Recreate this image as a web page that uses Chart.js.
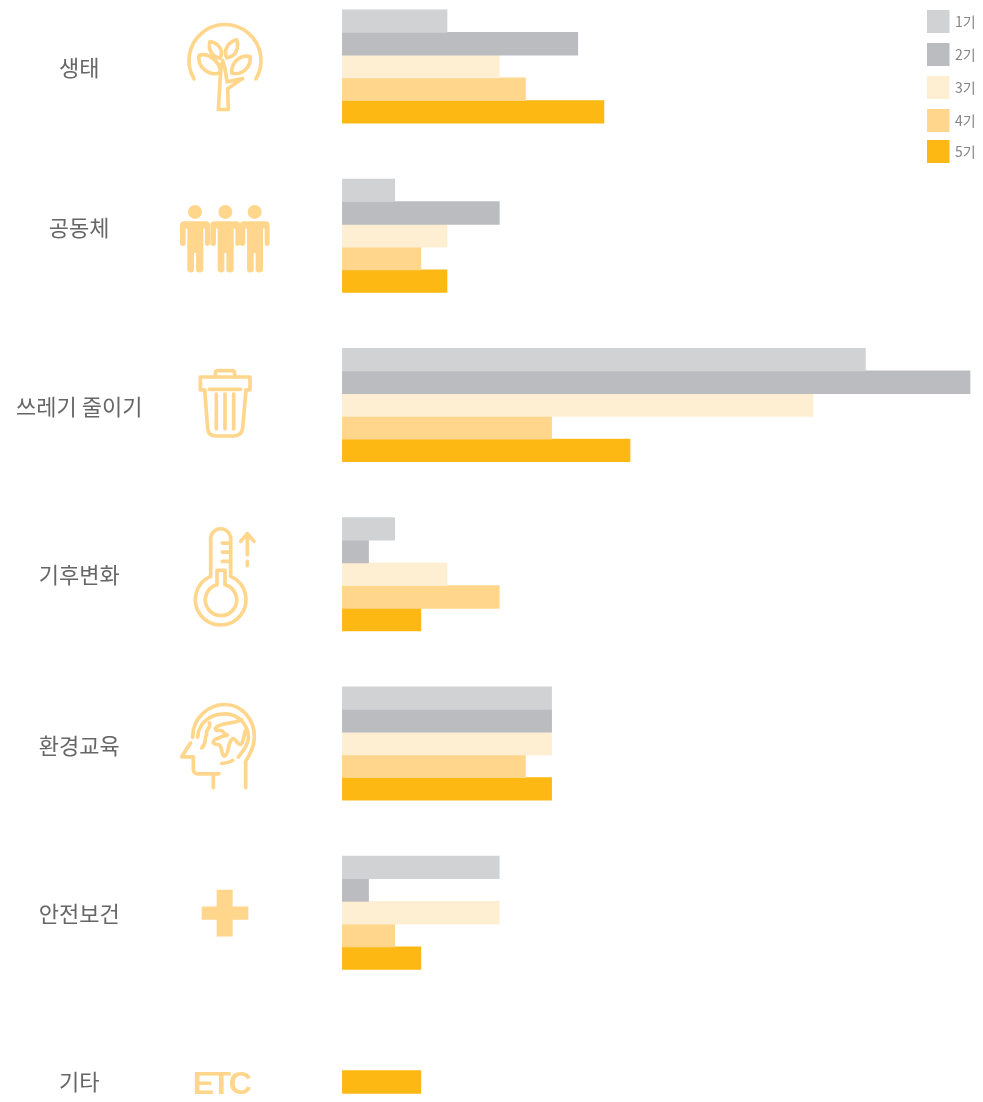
<!DOCTYPE html>
<html>
<head>
<meta charset="utf-8">
<style>
html, body { margin: 0; padding: 0; background: #fff; overflow: hidden; }
canvas { display: block; }
</style>
<script src="https://cdn.jsdelivr.net/npm/chart.js@4/dist/chart.umd.min.js"></script>
</head>
<body>
<canvas id="chart" width="983" height="1102"></canvas>
<script>
// Chart data
const categories = ['생태', '공동체', '쓰레기 줄이기', '기후변화', '환경교육', '안전보건', '기타'];
const seriesNames = ['1기', '2기', '3기', '4기', '5기'];
const term1 = [4, 2, 20, 2, 8, 6, null];
const term2 = [9, 6, 24, 1, 8, 1, null];
const term3 = [6, 4, 18, 4, 8, 6, null];
const term4 = [7, 3, 8, 6, 7, 2, null];
const term5 = [10, 4, 11, 3, 8, 3, 3];

const colors = ['#D1D2D4', '#BBBCC0', '#FFEFD2', '#FFD68B', '#FDB813'];
const iconColor = '#FFD68B';
const textFont = '"Noto Sans CJK KR", "Noto Sans", sans-serif';

// Icon paths are in 3x units, dy places the drawing relative to its row
const icons = [
    {
        dy: -56,
        stroke: [
            'M72 205 A108 108 0 1 1 258 205',
            'M145 297 L175 297 L173 235 L218 204 L171 214 L165 175 L158 150 L152 180 Z',
            'M120 93 C148 98 162 122 150 143 C128 140 112 118 120 93 Z',
            'M200 88 C208 112 198 138 170 142 C160 118 172 96 200 88 Z',
            'M87 135 C112 125 150 150 152 187 C115 198 82 170 87 135 Z',
            'M240 138 C245 168 218 195 186 188 C182 158 208 132 240 138 Z'
        ]
    },
    {
        dy: -45.5,
        fill: [0, 91, 179].map(x => `M${x + 42} 93 h66 q12 0 12 12 v53 q0 9 -8 9 q-7 0 -7 -9 v-43 h-5 v122 q0 10 -12 10 q-10 0 -10 -10 v-49 h-6 v49 q0 10 -10 10 q-10 0 -10 -10 v-122 h-5 v43 q0 9 -9 9 q-8 0 -8 -9 v-53 q0 -12 12 -12 Z M${x + 96} 65 a21 21 0 1 0 -42 0 a21 21 0 1 0 42 0 Z`)
    },
    {
        dy: -45,
        stroke: [
            'M104 90 H91 V51 H240 V90 H228',
            'M136 50 V38 Q136 32 145 32 H185 Q194 32 194 38 V50',
            'M104 90 L113 205 Q115 228 138 228 H190 Q215 228 218 205 L228 90',
            'M118 88 H212',
            'M139 102 V207', 'M165 102 V207', 'M191 102 V207'
        ]
    },
    {
        dy: -54.5,
        stroke: [
            'M122 170 V57 A30 30 0 0 1 182 57 V170 A76 76 0 1 1 122 170',
            'M141 195 V152 H165 V195 A47 47 0 1 1 141 195',
            'M157 70 H180', 'M157 97 H180', 'M157 125 H180',
            'M232 42 V105', 'M212 65 L232 42 L252 65', 'M232 125 V138'
        ]
    },
    {
        dy: -49,
        stroke: [
            'M68 128 C68 70 115 30 165 30 C215 30 255 75 253 130 C252 160 240 180 227 200 V280',
            'M83 128 C85 90 115 58 165 58 C205 58 235 90 235 130 C235 150 220 170 205 188',
            'M62 145 L35 187 H70 V225 Q70 238 85 238 H147',
            'M130 238 V280',
            'M155 207 Q172 207 188 198',
            'M118 85 C125 100 105 105 110 120 C100 135 112 145 95 160',
            'M215 75 C195 88 175 82 150 92 C135 98 130 108 145 108 C165 105 155 118 170 120',
            'M172 122 C155 125 145 130 135 135 C125 145 130 150 145 150 C160 155 150 175 162 185 C178 180 172 150 185 135 C195 125 200 150 212 150 C222 140 222 125 225 110'
        ]
    },
    {
        dy: -33,
        fill: ['M140 30 H188 V80 H235 V120 H188 V170 H140 V120 H95 V80 H140 Z']
    },
    { text: 'ETC' }
];

// Draws the icon column between the labels and the bars
const iconPlugin = {
    id: 'icons',
    afterDraw(chart) {
        const ctx = chart.ctx;
        const yScale = chart.scales.y;
        icons.forEach((icon, i) => {
            const rowY = yScale.getPixelForTick(i);
            ctx.save();
            if (icon.text) {
                ctx.font = 'bold 32px "Liberation Sans", sans-serif';
                ctx.letterSpacing = '-2.5px';
                ctx.fillStyle = iconColor;
                ctx.textAlign = 'center';
                ctx.textBaseline = 'middle';
                ctx.fillText(icon.text, 221, rowY + 3);
                ctx.restore();
                return;
            }
            ctx.translate(170, rowY + icon.dy);
            ctx.scale(1 / 3, 1 / 3);
            ctx.strokeStyle = iconColor;
            ctx.fillStyle = iconColor;
            ctx.lineWidth = 11;
            ctx.lineCap = 'round';
            ctx.lineJoin = 'round';
            (icon.stroke || []).forEach(d => ctx.stroke(new Path2D(d)));
            (icon.fill || []).forEach(d => ctx.fill(new Path2D(d)));
            ctx.restore();
        });
    }
};

// The labels do not sit exactly on their rows in the original
const labelNudge = [1.5, -8.5, 1.5, 0.5, 2.5, 0.5, -0.5];
const labelNudgePlugin = {
    id: 'labelNudge',
    beforeDraw(chart) {
        chart.scales.y.getLabelItems().forEach((item, i) => {
            if (item.baseY === undefined) item.baseY = item.options.translation[1];
            item.options.translation[1] = item.baseY + labelNudge[i];
        });
    }
};

// Legend sits over the chart area without taking layout room
const legendTops = [10, 43, 76, 109, 140];
const legendPlugin = {
    id: 'cornerLegend',
    afterDraw(chart) {
        const ctx = chart.ctx;
        ctx.save();
        ctx.font = '14px ' + textFont;
        ctx.textBaseline = 'middle';
        chart.data.datasets.forEach((ds, i) => {
            ctx.fillStyle = ds.backgroundColor;
            ctx.fillRect(927, legendTops[i], 22.5, 23);
            ctx.fillStyle = '#858585';
            ctx.fillText(ds.label, 955, legendTops[i] + 11.5);
        });
        ctx.restore();
    }
};

const seriesValues = [term1, term2, term3, term4, term5];

new Chart(document.getElementById('chart').getContext('2d'), {
    type: 'bar',
    data: {
        labels: categories,
        datasets: seriesNames.map((name, i) => ({
            label: name,
            data: seriesValues[i],
            backgroundColor: colors[i],
            barThickness: 22.7,
            skipNull: true,
            clip: false
        }))
    },
    options: {
        indexAxis: 'y',
        responsive: false,
        animation: false,
        devicePixelRatio: 1,
        layout: { padding: { top: 66.5, bottom: 20, right: 13, left: 0 } },
        plugins: {
            legend: { display: false },
            tooltip: { enabled: false }
        },
        scales: {
            x: { display: false, min: 0, max: 24 },
            y: {
                offset: false,
                border: { display: false },
                // tick length only pushes the centred labels left, marks stay hidden
                grid: { display: false, drawTicks: true, tickLength: 200 },
                afterFit(scale) { scale.width = 342.4; },
                ticks: {
                    autoSkip: false,
                    crossAlign: 'center',
                    padding: 0,
                    color: '#666666',
                    font: { family: textFont, size: 22 }
                }
            }
        }
    },
    plugins: [labelNudgePlugin, iconPlugin, legendPlugin]
});
</script>
</body>
</html>
